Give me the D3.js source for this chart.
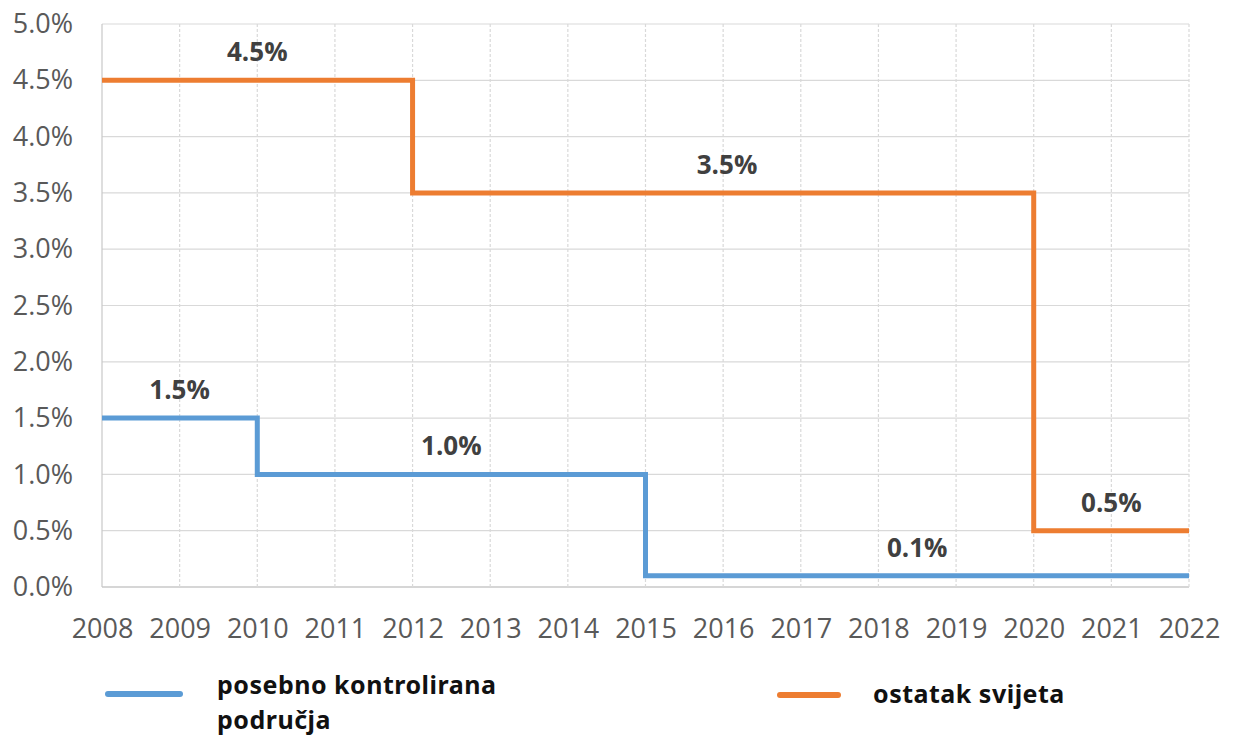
<!DOCTYPE html>
<html>
<head>
<meta charset="utf-8">
<script src="https://cdn.jsdelivr.net/npm/d3@7"></script>
<style>
	body { margin: 0; background: #fff; }
	.axis text { font-family: "Open Sans", sans-serif; font-size: 27px; fill: #595959; }
	.axis path, .axis line { display: none; }
	.lbl { font-family: "Open Sans", sans-serif; font-size: 26px; font-weight: bold; fill: #404040; }
	.legend text { font-family: "Noto Sans", sans-serif; font-size: 25px; font-weight: bold; fill: #111; letter-spacing: 0.5px; }
</style>
</head>
<body>
<div id="graph"></div>
<script>
const years = [2008, 2009, 2010, 2011, 2012, 2013, 2014, 2015, 2016, 2017, 2018, 2019, 2020, 2021, 2022];
const yTicks = [0, 0.5, 1, 1.5, 2, 2.5, 3, 3.5, 4, 4.5, 5];

// step series: value holds from this year until the next point
const controlled = [[2008, 1.5], [2010, 1.0], [2015, 0.1], [2022, 0.1]];
const restOfWorld = [[2008, 4.5], [2012, 3.5], [2020, 0.5], [2022, 0.5]];

// value labels: [year, value, text]
const controlledLabels = [[2009, 1.5, "1.5%"], [2012.5, 1.0, "1.0%"], [2018.5, 0.1, "0.1%"]];
const restLabels = [[2010, 4.5, "4.5%"], [2016.05, 3.5, "3.5%"], [2021, 0.5, "0.5%"]];

const seriesNames = ["posebno kontrolirana|područja", "ostatak svijeta"];
const colors = ["#5b9bd5", "#ed7d31"];

const margin = {top: 24, right: 45, bottom: 148, left: 102},
	width = 1234 - margin.left - margin.right,
	height = 735 - margin.top - margin.bottom;

const svg = d3.select("#graph")
	.append("svg")
	.attr("width", 1234)
	.attr("height", 735)
	.append("g")
	.attr("transform", "translate(" + margin.left + "," + margin.top + ")");

const xScale = d3.scaleLinear().domain([2008, 2022]).range([0, width]);
const yScale = d3.scaleLinear().domain([0, 5]).range([height, 0]);

// grid
svg.selectAll(".hgrid")
	.data(yTicks)
	.enter().append("line")
	.attr("x1", 0).attr("x2", width)
	.attr("y1", d => yScale(d)).attr("y2", d => yScale(d))
	.attr("stroke", d => d === 0 ? "#c8c8c8" : "#d9d9d9")
	.attr("stroke-width", d => d === 0 ? 1.5 : 1.2);

svg.selectAll(".vgrid")
	.data(years)
	.enter().append("line")
	.attr("x1", d => xScale(d)).attr("x2", d => xScale(d))
	.attr("y1", 0).attr("y2", height)
	.attr("stroke", d => (d === 2008) ? "#c8c8c8" : "#d9d9d9")
	.attr("stroke-width", 1.2)
	.attr("stroke-dasharray", d => (d === 2008) ? null : "3,2");

// axes
svg.append("g")
	.attr("class", "axis")
	.attr("transform", "translate(0," + height + ")")
	.call(d3.axisBottom(xScale).tickValues(years).tickFormat(d3.format("d")).tickSize(0).tickPadding(32));

svg.append("g")
	.attr("class", "axis")
	.call(d3.axisLeft(yScale).tickValues(yTicks).tickFormat(d => d.toFixed(1) + "%").tickSize(0).tickPadding(29));

// lines
const line = d3.line()
	.x(d => xScale(d[0]))
	.y(d => yScale(d[1]))
	.curve(d3.curveStepAfter);

[controlled, restOfWorld].forEach((s, i) => {
	svg.append("path")
		.datum(s)
		.attr("fill", "none")
		.attr("stroke", colors[i])
		.attr("stroke-width", 5)
		.attr("stroke-linejoin", "miter")
		.attr("d", line);
});

// labels
svg.selectAll(".lbl")
	.data(controlledLabels.concat(restLabels))
	.enter().append("text")
	.attr("class", "lbl")
	.attr("x", d => xScale(d[0]))
	.attr("y", d => yScale(d[1]) - 19)
	.attr("text-anchor", "middle")
	.text(d => d[2]);

// legend
const legend = d3.select("svg").append("g").attr("class", "legend");
const legendX = [[108, 180, 217, 694, 694], [780, 838, 873, 703, 695]];
seriesNames.forEach((name, i) => {
	legend.append("line")
		.attr("x1", legendX[i][0]).attr("x2", legendX[i][1])
		.attr("y1", legendX[i][4]).attr("y2", legendX[i][4])
		.attr("stroke", colors[i])
		.attr("stroke-width", 6)
		.attr("stroke-linecap", "round");
	const txt = legend.append("text")
		.attr("x", legendX[i][2])
		.attr("y", legendX[i][3]);
	name.split("|").forEach((t, j) => {
		txt.append("tspan")
			.attr("x", legendX[i][2])
			.attr("dy", j === 0 ? 0 : 35)
			.text(t);
	});
});
</script>
</body>
</html>
